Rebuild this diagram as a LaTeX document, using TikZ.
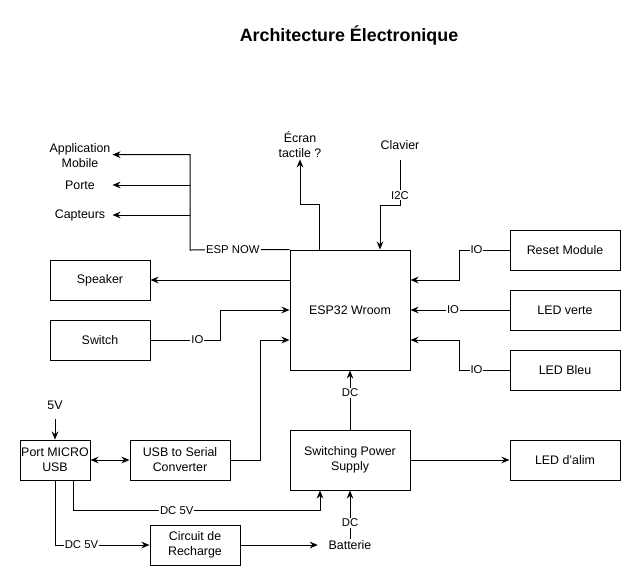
\documentclass[tikz,border=0pt]{standalone}
\usepackage{fontspec}
\setmainfont{Liberation Sans}
\usetikzlibrary{arrows.meta}

\begin{document}
\begin{tikzpicture}[x=0.75pt,y=0.75pt,yscale=-1,xscale=1,line width=0.75pt,
    bloc/.style={draw, align=center, inner sep=0.75pt, font=\fontsize{9.3}{11.25}\selectfont},
    txt/.style={align=center, inner sep=0.75pt, font=\fontsize{9.3}{11.25}\selectfont},
    lab/.style={fill=white, inner sep=0.75pt, font=\fontsize{8.5}{10}\selectfont},
    fleche/.style={-{Stealth[length=6pt,width=5pt]}},
    double fleche/.style={{Stealth[length=6pt,width=5pt]}-{Stealth[length=6pt,width=5pt]}}]
    \useasboundingbox (0,0) rectangle (641,586);

    % Title
    \node[font=\bfseries\fontsize{13.4}{16}\selectfont] (titre) at (349,35) {Architecture Électronique};

    % Shape: Rectangle [id:esp]
    \node[bloc, minimum width=90pt, minimum height=90pt] (esp) at (350,310) {ESP32 Wroom};
    % Shape: Rectangle [id:speaker]
    \node[bloc, minimum width=75pt, minimum height=30pt] (speaker) at (100,280) {Speaker};
    % Shape: Rectangle [id:switch]
    \node[bloc, minimum width=75pt, minimum height=30pt] (switch) at (100,340) {Switch};
    % Shape: Rectangle [id:reset]
    \node[bloc, minimum width=82.5pt, minimum height=30pt] (reset) at (565,250) {Reset Module};
    % Shape: Rectangle [id:verte]
    \node[bloc, minimum width=82.5pt, minimum height=30pt] (verte) at (565,310) {LED verte};
    % Shape: Rectangle [id:bleu]
    \node[bloc, minimum width=82.5pt, minimum height=30pt] (bleu) at (565,370) {LED Bleu};
    % Shape: Rectangle [id:port]
    \node[bloc, minimum width=52.5pt, minimum height=30pt] (port) at (55,460) {Port MICRO\\USB};
    % Shape: Rectangle [id:serial]
    \node[bloc, minimum width=75pt, minimum height=30pt] (serial) at (180,460) {USB to Serial\\Converter};
    % Shape: Rectangle [id:alim]
    \node[bloc, minimum width=90pt, minimum height=45pt] (alim) at (350,460) {Switching Power\\Supply};
    % Shape: Rectangle [id:ledalim]
    \node[bloc, minimum width=82.5pt, minimum height=30pt] (ledalim) at (565,460) {LED d'alim};
    % Shape: Rectangle [id:recharge]
    \node[bloc, minimum width=67.5pt, minimum height=30pt] (recharge) at (195,545) {Circuit de\\Recharge};

    % Text Node
    \node[txt, minimum width=48pt] (appli) at (80,156) {Application\\Mobile};
    % Text Node
    \node[txt, minimum width=48pt] (porte) at (80,185) {Porte};
    % Text Node
    \node[txt, minimum width=48pt] (capteurs) at (80,215) {Capteurs};
    % Text Node
    \node[txt] (ecran) at (300,145) {Écran\\tactile ?};
    % Text Node
    \node[txt] (clavier) at (400,145) {Clavier};
    % Text Node
    \node[txt] (cinqv) at (55,405) {5V};
    % Text Node
    \node[txt] (batterie) at (350,545) {Batterie};
    \coordinate (bus) at (190,250);

    % Connections ESP NOW
    \draw[fleche] (esp.north west) -- node[lab,pos=0.57] {ESP NOW} (bus) |- ([yshift=-1pt]appli.east);
    \draw[fleche] (bus |- porte.east) -- (porte.east);
    \draw[fleche] (bus |- capteurs.east) -- (capteurs.east);
    % Connection Ecran
    \draw[fleche] ([xshift=22.5pt]esp.north west) -- ++(0,-45) -| (ecran.south);
    % Connection Clavier
    \draw[fleche] ([yshift=11.25pt]clavier.center) -- node[lab,pos=0.78] {I2C} ++(0,45) -| ([xshift=22.5pt]esp.north);
    % Connections left
    \draw[fleche] (esp.west |- speaker.east) -- (speaker.east);
    \draw[fleche] (switch.east) -- node[lab,pos=0.67] {IO} ++(70,0) |- (esp.west);
    \draw[fleche] (serial.east) -- ++(30,0) |- ([yshift=22.5pt]esp.west);
    % Connections right
    \draw[fleche] (reset.west) -- node[lab,pos=0.66] {IO} ++(-50,0) |- ([yshift=-22.5pt]esp.east);
    \draw[fleche] (verte.west) -- node[lab,pos=0.57] {IO} (esp.east);
    \draw[fleche] (bleu.west) -- node[lab,pos=0.66] {IO} ++(-50,0) |- ([yshift=22.5pt]esp.east);
    % Connections power
    \draw[fleche] (alim.north) -- node[lab,pos=0.62] {DC} (esp.south);
    \draw[fleche] (alim.east) -- (ledalim.west);
    \draw[double fleche] (port.east) -- (serial.west);
    \draw[fleche, shorten <=6pt] (cinqv.south) -- (port.north);
    \draw[fleche] ([xshift=13.5pt]port.south) -- ++(0,30) -| node[lab,pos=0.21] {DC 5V} ([xshift=-22.5pt]alim.south);
    \draw[fleche] (port.south) |- node[lab,pos=0.64] {DC 5V} (recharge.west);
    \draw[fleche, shorten >=7pt] (recharge.east) -- (batterie.west);
    \draw[fleche] (batterie.north) -- node[lab,pos=0.33] {DC} (alim.south);
\end{tikzpicture}
\end{document}
